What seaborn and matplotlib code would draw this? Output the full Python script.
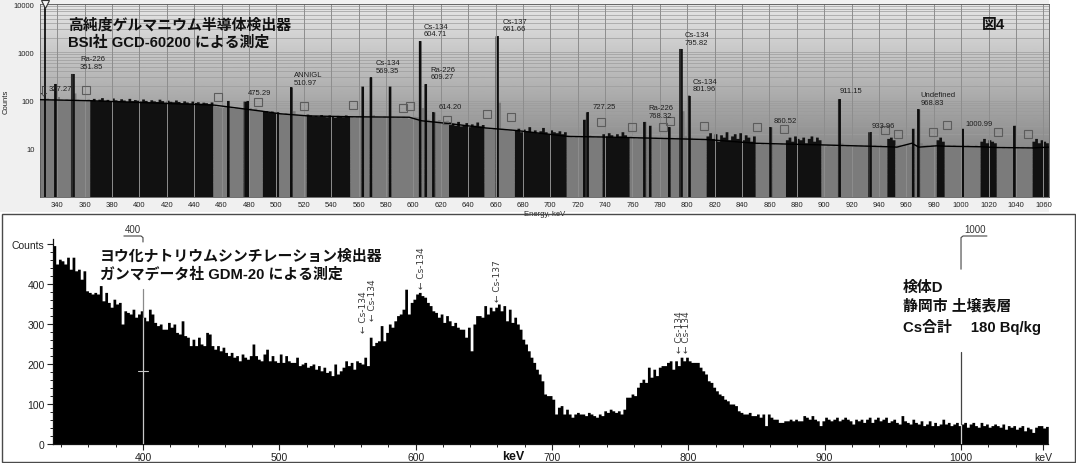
import numpy as np
import matplotlib
matplotlib.use("Agg")
import matplotlib.pyplot as plt
from matplotlib.patches import Rectangle
from matplotlib.ticker import LogLocator, NullFormatter, MultipleLocator
import seaborn as sns

# ---------------- HPGe spectrum (upper panel) ----------------
hpge_start_kev = 328
hpge_bin_kev = 2
hpge_counts = [
    108, 104, 110, 102, 106, 220, 118, 104, 100, 106,   # 328-346
    104, 355, 140, 104, 100, 98, 102, 105, 101, 108,    # 348-366
    97, 104, 112, 99, 103, 96, 110, 101, 98, 106,       # 368-386
    100, 94, 108, 97, 102, 99, 95, 105, 98, 92,         # 388-406
    101, 96, 93, 104, 97, 90, 99, 94, 92, 100,          # 408-426
    93, 88, 96, 91, 87, 95, 89, 92, 86, 90,             # 428-446
    88, 84, 91, 76, 74, 72, 71, 73, 98, 70,             # 448-466
    68, 71, 67, 69, 95, 98, 70, 66, 68, 64,             # 468-486
    62, 58, 60, 56, 59, 55, 57, 54, 52, 55,             # 488-506
    53, 187, 60, 51, 49, 50, 48, 51, 49, 47,            # 508-526
    48, 46, 50, 47, 45, 49, 46, 44, 48, 47,             # 528-546
    45, 49, 46, 47, 44, 46, 48, 195, 47, 46,            # 548-566
    300, 50, 46, 45, 44, 47, 45, 195, 46, 44,           # 568-586
    45, 43, 46, 44, 42, 44, 46, 45, 1700, 70,           # 588-606
    218, 40, 38, 57, 37, 39, 36, 37, 38, 35,            # 608-626
    33, 30, 36, 29, 31, 34, 28, 32, 30, 35,             # 628-646
    29, 31, 27, 26, 25, 27, 2140, 90, 26, 25,           # 648-666
    24, 25, 23, 24, 26, 22, 25, 23, 28, 22,             # 668-686
    24, 21, 23, 27, 22, 20, 24, 22, 21, 23,             # 688-706
    20, 22, 19, 18, 17, 18, 17, 18, 40, 57,             # 708-726
    19, 18, 17, 18, 17, 20, 18, 21, 19, 17,             # 728-746
    20, 18, 22, 19, 17, 18, 17, 16, 17, 17,             # 748-766
    36, 17, 30, 16, 17, 16, 17, 16, 17, 28,             # 768-786
    17, 16, 17, 1170, 60, 18, 126, 17, 16, 16,          # 788-806
    15, 16, 15, 18, 21, 16, 20, 14, 19, 17,             # 808-826
    22, 15, 18, 20, 16, 21, 15, 19, 17, 14,             # 828-846
    18, 13, 12, 13, 12, 12, 28, 13, 12, 12,             # 848-866
    13, 12, 15, 17, 14, 18, 16, 15, 17, 13,             # 868-886
    16, 18, 14, 17, 15, 12, 11, 12, 11, 12,             # 888-906
    11, 107, 13, 11, 12, 11, 11, 12, 11, 12,            # 908-926
    11, 12, 22, 11, 12, 11, 12, 11, 11, 16,             # 928-946
    17, 15, 12, 12, 11, 12, 12, 11, 26, 12,             # 948-966
    66, 13, 12, 12, 11, 12, 12, 15, 17, 14,             # 968-986
    11, 12, 11, 12, 11, 11, 26, 11, 12, 11,             # 988-1006
    11, 12, 11, 14, 16, 13, 15, 14, 13, 11,             # 1008-1026
    10, 11, 10, 11, 10, 30, 11, 10, 11, 10,             # 1028-1046
    11, 10, 14, 16, 13, 15, 14, 13,                     # 1048-1062
]

# regions of interest (shown in grey)
roi_start_kev = [327.4, 455, 503, 555, 652.5, 713, 758.5, 849.7, 899, 953, 988, 1026]
roi_end_kev = [364, 489.5, 523, 627, 674.5, 739, 814.6, 873, 947, 982, 1014, 1052]

# identified peak centroids
hpge_peak_kev = [338.3, 351.9, 464.5, 477.5, 479.5, 511.0, 563.2, 569.3, 583.2,
                 604.7, 609.3, 614.2, 661.7, 724.5, 727.3, 768.4, 772.5, 786.5,
                 795.9, 801.9, 860.5, 911.2, 933.9, 964.8, 968.8, 1001.0, 1038.5]

# fitted continuum
baseline_kev = [327.4, 364, 455, 489.5, 503, 523, 555, 597, 606, 627, 652.5, 674.5,
                713, 739, 758.5, 814.6, 849.7, 873, 899, 947, 953, 964, 969, 982,
                988, 1014, 1026, 1052, 1064.1]
baseline_counts = [104, 99, 80, 60, 53, 48, 46, 45, 38, 33, 27, 24,
                   18, 17.5, 17, 15.5, 13, 12.5, 12, 11, 10.8, 13, 10.8, 11.5,
                   11.3, 11, 10.6, 10.4, 10.8]

# ROI edge markers
roi_mark_kev = [361, 457.3, 486.5, 520, 555.8, 592.4, 597.5, 624.5, 653.7, 671.3,
                737, 759.6, 782.3, 787.4, 812.2, 850.9, 870.6, 944.4, 953.9,
                979.5, 989.7, 1027, 1049]
roi_mark_counts = [165, 118, 93, 77, 81, 70, 77, 39, 52, 45,
                   36, 28, 28, 38, 30, 28, 26, 24.5, 20,
                   22, 31, 22, 20]

peak_label_text = ["327.27", "Ra-226\n351.85", "475.29", "ANNIGL\n510.97",
                   "Cs-134\n569.35", "Cs-134\n604.71", "Ra-226\n609.27", "614.20",
                   "Cs-137\n661.66", "727.25", "Ra-226\n768.32", "Cs-134\n795.82",
                   "Cs-134\n801.96", "860.52", "911.15", "933.96",
                   "Undefined\n968.83", "1000.99"]
peak_label_kev = [334.0, 356.6, 479.5, 512.8, 572.7, 607.8, 612.7, 618.3, 665.0,
                  730.7, 771.6, 798.3, 803.6, 862.8, 911.5, 934.3, 970.5, 1003.3]
peak_label_counts = [148, 435, 122, 203, 359, 2040, 262, 63, 2590, 65, 42, 1370,
                     148, 33, 138, 25.6, 78, 28]

cursor_kev = 330.7
hpge_xticks = list(range(340, 1061, 20))
hpge_yticks = [10, 100, 1000, 10000]

# ---------------- NaI spectrum (lower panel) ----------------
nai_start_kev = 334
nai_bin_kev = 2
nai_counts = [
    496, 450, 462, 458, 450, 467, 437, 467, 433, 437,   # 334-352
    412, 433, 383, 379, 375, 379, 375, 396, 358, 379,   # 354-372
    354, 342, 362, 350, 354, 300, 333, 329, 325, 337,   # 374-392
    317, 325, 333, 317, 308, 337, 325, 304, 296, 300,   # 394-412
    287, 287, 304, 292, 300, 279, 275, 308, 271, 267,   # 414-432
    246, 262, 246, 267, 250, 246, 279, 275, 246, 237,   # 434-452
    246, 233, 242, 229, 221, 229, 217, 221, 208, 225,   # 454-472
    217, 212, 221, 250, 221, 212, 208, 225, 237, 208,   # 474-492
    221, 208, 204, 225, 204, 221, 208, 204, 204, 217,   # 494-512
    196, 200, 204, 192, 196, 200, 187, 196, 183, 192,   # 514-532
    179, 183, 171, 200, 175, 183, 192, 208, 196, 204,   # 534-552
    187, 208, 204, 200, 217, 196, 267, 246, 254, 258,   # 554-572
    296, 258, 279, 300, 292, 308, 321, 325, 337, 387,   # 574-592
    325, 354, 362, 375, 379, 371, 367, 354, 346, 333,   # 594-612
    329, 317, 325, 304, 321, 308, 296, 304, 292, 287,   # 614-632
    287, 267, 292, 233, 300, 321, 321, 317, 346, 325,   # 634-652
    342, 333, 342, 350, 333, 346, 308, 337, 304, 317,   # 654-672
    300, 287, 262, 250, 233, 217, 204, 187, 175, 158,   # 674-692
    125, 121, 121, 112, 75, 92, 96, 75, 87, 75,         # 694-712
    67, 75, 79, 75, 75, 71, 79, 75, 71, 67,             # 714-732
    75, 71, 83, 79, 87, 83, 79, 83, 75, 87,             # 734-752
    117, 117, 125, 121, 142, 154, 162, 154, 192, 167,   # 754-772
    187, 171, 192, 196, 196, 204, 208, 187, 208, 196,   # 774-792
    217, 208, 217, 208, 204, 204, 204, 192, 183, 175,   # 794-812
    158, 154, 142, 133, 125, 121, 112, 108, 100, 100,   # 814-832
    96, 83, 79, 75, 75, 79, 71, 71, 75, 67,             # 834-852
    75, 46, 75, 67, 62, 62, 54, 54, 58, 58,             # 854-872
    62, 58, 62, 58, 58, 71, 67, 62, 71, 62,             # 874-892
    58, 46, 58, 67, 62, 58, 62, 67, 58, 62,             # 894-912
    67, 62, 58, 50, 62, 58, 62, 54, 62, 67,             # 914-932
    54, 62, 67, 58, 62, 67, 54, 58, 62, 54,             # 934-952
    50, 71, 58, 54, 50, 62, 54, 50, 58, 46,             # 954-972
    50, 58, 46, 54, 46, 50, 62, 50, 54, 46,             # 974-992
    50, 54, 46, 50, 54, 42, 50, 54, 46, 42,             # 994-1012
    54, 46, 50, 42, 46, 50, 46, 42, 50, 37,             # 1014-1032
    46, 42, 46, 37, 42, 46, 33, 42, 38, 29,             # 1034-1052
    42, 46, 46, 40, 44,                                 # 1054-1062
]

nai_tag_text = ["Cs-134", "Cs-134", "Cs-134", "Cs-137", "Cs-134", "Cs-134"]
nai_tag_kev = [562.0, 568.6, 604.4, 659.9, 793.4, 798.5]
nai_tag_counts = [280, 310, 390, 358, 230, 230]

nai_major_kev = [400, 500, 600, 700, 800, 900, 1000, 1060]
nai_major_labels = ["400", "500", "600", "700", "800", "900", "1000", "keV"]
nai_yticks = [0, 100, 200, 300, 400, 500]
nai_ylabels = ["0", "100", "200", "300", "400", "Counts"]

# ---------------- figure ----------------
W, H = 1076, 464
sns.set_theme(style="white")
plt.rcParams["font.family"] = ["Liberation Sans", "DejaVu Sans"]
JP = ["Liberation Sans", "Noto Sans CJK JP", "DejaVu Sans"]

fig = plt.figure(figsize=(W / 100, H / 100), dpi=100)
fig.patch.set_facecolor("white")


def fx(px):
    return px / W


def fy(py):
    return 1 - py / H


fig.patches.append(Rectangle((0, fy(213)), fx(1049), 213 / H, transform=fig.transFigure,
                             facecolor="#f0f0f0", edgecolor="none", zorder=-5))
fig.patches.append(Rectangle((fx(1.5), fy(463)), fx(1073), (463 - 215) / H,
                             transform=fig.transFigure, facecolor="none",
                             edgecolor="#4a4a4a", lw=1.0, zorder=5))

rect1 = [fx(40), fy(198), fx(1009), (198 - 5) / H]
bg = fig.add_axes(rect1)
bg.set_zorder(1)
grad = np.linspace(0.42, 0.90, 256).reshape(-1, 1)
bg.imshow(grad, extent=[0, 1, 0, 1], origin="lower", aspect="auto", cmap="gray",
          vmin=0, vmax=1)
bg.axis("off")

ax1 = fig.add_axes(rect1)
ax1.set_zorder(2)
ax1.patch.set_visible(False)
ax1.set_yscale("log", nonpositive="clip")

counts = np.array(hpge_counts, dtype=float)
edges = hpge_start_kev + hpge_bin_kev * np.arange(len(counts) + 1)
mid = edges[:-1] + hpge_bin_kev / 2
in_roi = np.zeros(len(mid), dtype=bool)
for a, b in zip(roi_start_kev, roi_end_kev):
    in_roi |= (mid >= a) & (mid < b)
peak_idx = [int((e - hpge_start_kev) // hpge_bin_kev) for e in hpge_peak_kev]
is_peak = np.zeros(len(mid), dtype=bool)
is_peak[peak_idx] = True

layers = [("#111111", ~in_roi & ~is_peak),
          ("#7b7b7b", in_roi & ~is_peak),
          ("#2a2a2a", is_peak)]
for col, mask in layers:
    sns.histplot(x=mid, weights=np.where(mask, counts, 0.0), bins=edges.tolist(),
                 element="step", fill=True, color=col, alpha=1, linewidth=0,
                 ax=ax1, zorder=2)

ax1.grid(axis="y", which="both", color="#9c9c9c", lw=0.5)
ax1.grid(axis="x", visible=False)
ax1.set_axisbelow(True)
for e in hpge_xticks:
    ax1.axvline(e, color="#8d8d8d", lw=0.7, zorder=2.5)

ax1.vlines(hpge_peak_kev, 1, counts[peak_idx], color="#050505", lw=1.1, zorder=3)
ax1.axvline(cursor_kev, color="#000000", lw=1.2, zorder=3.5)
ax1.plot([cursor_kev], [1.0], transform=ax1.get_xaxis_transform(), marker="v",
         ms=6, mfc="#f4f4f4", mec="#333333", mew=0.8, clip_on=False, zorder=6)

sns.lineplot(x=baseline_kev, y=baseline_counts, color="black", lw=1.0, ax=ax1,
             zorder=4, sort=False)
ax1.plot(roi_mark_kev, roi_mark_counts, ls="none", marker="s", ms=5.5, mfc="none",
         mec="#5c5c5c", mew=0.8, zorder=4)

for txt, x, y in zip(peak_label_text, peak_label_kev, peak_label_counts):
    ax1.text(x, y, txt, fontsize=5.5, color="#1e1e1e", ha="left", va="bottom",
             linespacing=1.05, zorder=5)

ax1.set_xlim(327.4, 1064.1)
ax1.set_ylim(1, 10000)
ax1.set_xticks(hpge_xticks)
ax1.set_xticklabels([str(v) for v in hpge_xticks])
ax1.set_yticks(hpge_yticks)
ax1.set_yticklabels([str(v) for v in hpge_yticks])
ax1.yaxis.set_minor_locator(LogLocator(base=10, subs=np.arange(2, 10)))
ax1.yaxis.set_minor_formatter(NullFormatter())
ax1.tick_params(axis="x", length=0, labelsize=5.5, pad=3, colors="#222222")
ax1.tick_params(axis="y", which="major", length=2, labelsize=5.5, pad=2, colors="#222222")
ax1.tick_params(axis="y", which="minor", length=0)
ax1.set_xlabel("Energy, keV", fontsize=5.5, labelpad=1, color="#222222")
ax1.set_ylabel("Counts", fontsize=5.5, labelpad=3, color="#222222")
for s in ax1.spines.values():
    s.set_color("#5a5a5a")
    s.set_linewidth(0.6)

fig.text(fx(43.5), fy(91), "\u21e9", ha="center", va="center", fontsize=10,
         color="#333333", family="DejaVu Sans", zorder=7)
fig.text(fx(68), fy(25), "高純度ゲルマニウム半導体検出器", family=JP, weight="bold",
         fontsize=10.7, ha="left", va="center", color="#111111")
fig.text(fx(68), fy(43), "BSI社 GCD-60200 による測定", family=JP, weight="bold",
         fontsize=10.7, ha="left", va="center", color="#111111")
fig.text(fx(982), fy(25), "図4", family=JP, weight="bold",
         fontsize=10.7, ha="left", va="center", color="#111111")

# ---------------- lower panel ----------------
ax2 = fig.add_axes([fx(53), fy(445), fx(995), (445 - 240) / H])
ax2.set_facecolor("white")
nai = np.array(nai_counts, dtype=float)
nai_edges = nai_start_kev + nai_bin_kev * np.arange(len(nai) + 1)
nai_mid = nai_edges[:-1] + nai_bin_kev / 2
sns.histplot(x=nai_mid, weights=nai, bins=nai_edges.tolist(), element="step",
             fill=True, color="black", alpha=1, linewidth=0, ax=ax2, zorder=2)

ax2.set_xlim(334.0, 1063.8)
ax2.set_ylim(0, 512.5)
ax2.set_xticks(nai_major_kev)
ax2.set_xticklabels(nai_major_labels)
ax2.xaxis.set_minor_locator(MultipleLocator(20))
ax2.set_yticks(nai_yticks)
ax2.set_yticklabels(nai_ylabels)
ax2.yaxis.set_minor_locator(MultipleLocator(20))
ax2.tick_params(axis="both", which="major", direction="out", length=4, width=0.8,
                labelsize=7.5, pad=2, colors="#222222")
ax2.tick_params(axis="both", which="minor", direction="out", length=2.5, width=0.7,
                colors="#222222")
ax2.tick_params(axis="both", which="both", bottom=True, left=True)
ax2.set_xlabel("")
ax2.set_ylabel("")
ax2.grid(False)
for side in ("top", "right"):
    ax2.spines[side].set_visible(False)
for side in ("left", "bottom"):
    ax2.spines[side].set_color("#111111")
    ax2.spines[side].set_linewidth(0.9)

# energy cursors
i400 = int((400 - nai_start_kev) // nai_bin_kev)
i1000 = int((1000 - nai_start_kev) // nai_bin_kev)
ax2.plot([400, 400], [0, nai[i400]], color="#c8c8c8", lw=0.9, zorder=3)
ax2.plot([400, 400], [nai[i400], 387], color="#8a8a8a", lw=0.9, zorder=3)
ax2.plot([396.3, 403.7], [182, 182], color="#c8c8c8", lw=0.8, zorder=3)
ax2.plot([386, 398.6, 400, 400], [520, 520, 516, 505], color="#444444", lw=0.8,
         clip_on=False)
ax2.text(392.7, 524, "400", ha="center", va="bottom", fontsize=7, color="#333333")

ax2.plot([1000, 1000], [0, nai[i1000]], color="#d0d0d0", lw=0.9, zorder=3)
ax2.plot([1000, 1000], [nai[i1000], 230], color="#444444", lw=0.9, zorder=3)
ax2.plot([1019, 1001.5, 1000, 1000], [520, 520, 516, 437], color="#444444", lw=0.8,
         clip_on=False)
ax2.text(1010.3, 524, "1000", ha="center", va="bottom", fontsize=7, color="#333333")

for txt, x, y in zip(nai_tag_text, nai_tag_kev, nai_tag_counts):
    ax2.text(x, y, "\u2190 " + txt, rotation=90, ha="center", va="bottom",
             fontsize=6.5, color="#3a3a3a", family="DejaVu Sans", zorder=5)

fig.text(fx(513), fy(457), "keV", weight="bold", fontsize=9, ha="center",
         va="center", color="#111111")
fig.text(fx(100), fy(256.7), "ヨウ化ナトリウムシンチレーション検出器", family=JP,
         weight="bold", fontsize=10.7, ha="left", va="center", color="#111111")
fig.text(fx(100), fy(274.3), "ガンマデータ社 GDM-20 による測定", family=JP,
         weight="bold", fontsize=10.7, ha="left", va="center", color="#111111")
fig.text(fx(903), fy(288.3), "検体D", family=JP, weight="bold", fontsize=10.7,
         ha="left", va="center", color="#111111")
fig.text(fx(903), fy(306.7), "静岡市 土壌表層", family=JP, weight="bold",
         fontsize=10.7, ha="left", va="center", color="#111111")
fig.text(fx(903), fy(326.7), "Cs合計\u3000 180 Bq/kg", family=JP, weight="bold",
         fontsize=10.7, ha="left", va="center", color="#111111")

fig.savefig("out.png", dpi=100)
